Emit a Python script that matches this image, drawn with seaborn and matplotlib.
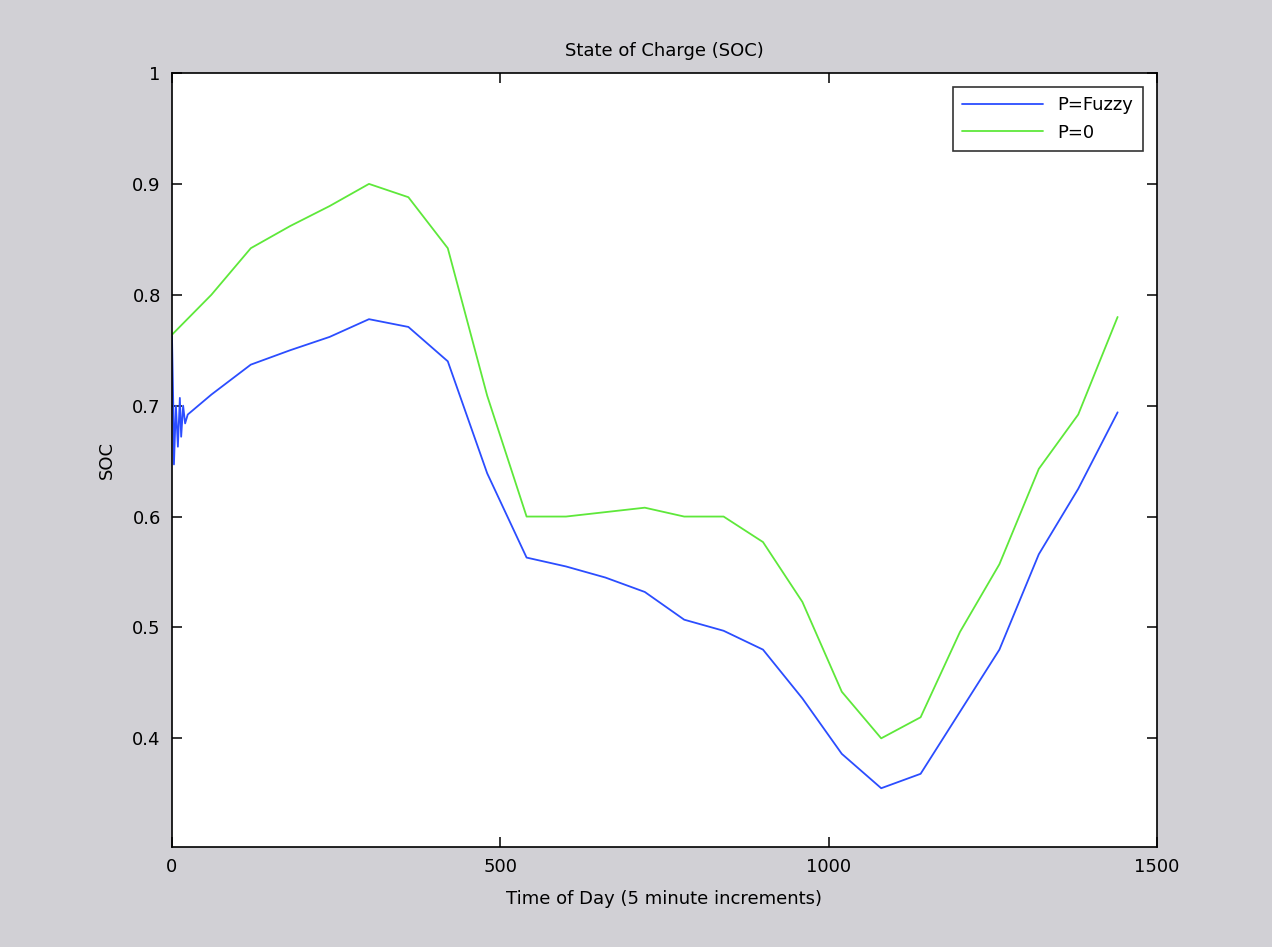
import numpy as np
import pandas as pd
import matplotlib
matplotlib.use("Agg")
import matplotlib.pyplot as plt
import seaborn as sns

# values (x = 5-minute step index)
fuzzy_x = [0, 2, 3, 6, 9, 12, 14, 17, 20, 24, 30, 60, 120, 180, 240, 300, 360, 420,
           480, 540, 600, 660, 720, 780, 840, 900, 960, 1020, 1080, 1140, 1200,
           1260, 1320, 1380, 1440]
fuzzy_soc = [0.763, 0.70, 0.647, 0.70, 0.663, 0.707, 0.672, 0.70, 0.684, 0.692, 0.695,
             0.710, 0.737, 0.750, 0.762, 0.778, 0.771, 0.740, 0.639, 0.563, 0.555,
             0.545, 0.532, 0.507, 0.497, 0.480, 0.436, 0.386, 0.355, 0.368, 0.424,
             0.480, 0.566, 0.625, 0.694]

zero_x = [0, 60, 120, 180, 240, 300, 360, 420, 480, 540, 600, 660, 720, 780, 840,
          900, 960, 1020, 1080, 1140, 1200, 1260, 1320, 1380, 1440]
zero_soc = [0.764, 0.800, 0.842, 0.862, 0.880, 0.900, 0.888, 0.842, 0.709, 0.600,
            0.600, 0.604, 0.608, 0.600, 0.600, 0.577, 0.523, 0.442, 0.400, 0.419,
            0.496, 0.557, 0.643, 0.692, 0.780]

labels = ["P=Fuzzy", "P=0"]
colors = ["#2b4dff", "#5ee83a"]
x_ticks = [0, 500, 1000, 1500]
y_ticks = [0.4, 0.5, 0.6, 0.7, 0.8, 0.9, 1.0]

sns.set_theme(style="white")
plt.rcParams["font.family"] = ["DejaVu Sans"]
plt.rcParams["text.color"] = "black"
plt.rcParams["axes.labelcolor"] = "black"

bg = "#d1d0d5"
fig = plt.figure(figsize=(12.72, 9.47), dpi=100, facecolor=bg)
ax = fig.add_axes([0.1352, 0.1056, 0.7744, 0.8173])
ax.set_facecolor("white")

sns.lineplot(x=fuzzy_x, y=fuzzy_soc, ax=ax, color=colors[0], linewidth=1.3,
             label=labels[0], estimator=None, sort=False)
sns.lineplot(x=zero_x, y=zero_soc, ax=ax, color=colors[1], linewidth=1.3,
             label=labels[1], estimator=None, sort=False)

ax.set_xlim(0, 1500)
ax.set_ylim(0.302, 1.0)
ax.set_xticks(x_ticks)
ax.set_yticks(y_ticks)
ax.set_xticklabels([f"{t:g}" for t in x_ticks])
ax.set_yticklabels([f"{t:g}" for t in y_ticks])

for s in ax.spines.values():
    s.set_color("black")
    s.set_linewidth(1.2)
ax.tick_params(direction="in", length=7, width=1.1, top=True, right=True,
               bottom=True, left=True, labelsize=13, colors="black", pad=8)

ax.set_title("State of Charge (SOC)", fontsize=13, pad=12, color="black")
ax.set_xlabel("Time of Day (5 minute increments)", fontsize=13, labelpad=10)
ax.set_ylabel("SOC", fontsize=13, labelpad=12)

leg = ax.legend(loc="upper right", fontsize=13, frameon=True, fancybox=False,
                borderaxespad=0.8, handlelength=4.5, borderpad=0.5, labelspacing=0.5)
leg.get_frame().set_edgecolor("black")
leg.get_frame().set_linewidth(1.2)
for t in leg.get_texts():
    t.set_color("black")

fig.savefig("out.png", dpi=100, facecolor=bg)
